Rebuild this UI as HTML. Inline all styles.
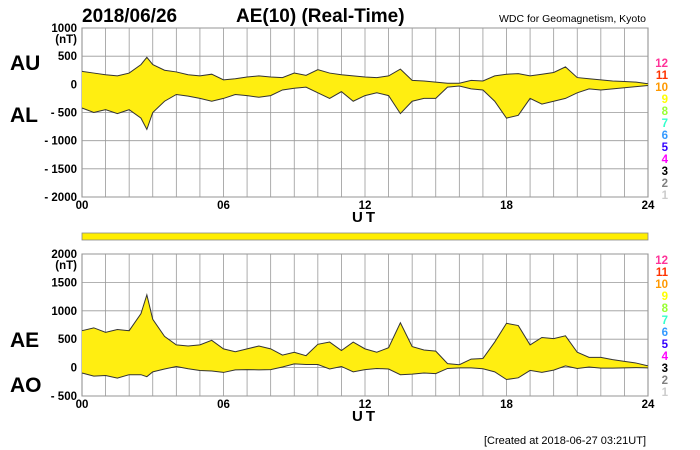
<!DOCTYPE html>
<html><head><meta charset="utf-8"><style>
body{margin:0;background:#fff;}
svg{display:block;font-family:"Liberation Sans",sans-serif;}
</style></head><body>
<svg id="c" width="700" height="450">
<text x="82" y="22" font-size="19" font-weight="bold">2018/06/26</text>
<text x="236" y="22" font-size="19" font-weight="bold">AE(10) (Real-Time)</text>
<text x="646" y="22" font-size="10.5" text-anchor="end">WDC for Geomagnetism, Kyoto</text>
<text x="10" y="70" font-size="21" font-weight="bold">AU</text>
<text x="10" y="122" font-size="21" font-weight="bold">AL</text>
<text x="10" y="347" font-size="21" font-weight="bold">AE</text>
<text x="10" y="392" font-size="21" font-weight="bold">AO</text>
<rect x="82" y="233" width="566" height="7" fill="#ffee00" stroke="#888" stroke-width="0.8"/>
<text x="646" y="444" font-size="11" text-anchor="end">[Created at 2018-06-27 03:21UT]</text>
</svg>
<script>
const hours=[0,0.5,1,1.5,2,2.5,2.75,3,3.5,4,4.5,5,5.5,6,6.5,7,7.5,8,8.5,9,9.5,10,10.5,11,11.5,12,12.5,13,13.5,14,14.5,15,15.5,16,16.5,17,17.5,18,18.5,19,19.5,20,20.5,21,21.5,22,22.5,23,23.5,24];
const auValues=[230,200,170,150,200,350,480,350,250,220,170,150,180,80,100,130,150,130,120,200,160,260,200,170,150,130,120,150,270,70,60,40,20,20,70,60,150,180,190,150,180,210,310,120,100,80,60,50,40,10];
const alValues=[-420,-500,-450,-520,-450,-600,-800,-500,-300,-180,-210,-250,-300,-250,-180,-200,-230,-200,-100,-70,-50,-150,-250,-130,-300,-200,-150,-200,-520,-300,-250,-250,-50,-30,-80,-100,-300,-600,-550,-250,-350,-300,-250,-150,-80,-100,-80,-60,-40,-20];
const xTicks=["00","06","12","18","24"];
const topTicks=[1000,500,0,-500,-1000,-1500,-2000];
const botTicks=[2000,1500,1000,500,0,-500];
const legendNums=["12","11","10","9","8","7","6","5","4","3","2","1"];
const legendCols=["#ff3399","#ff3300","#ff9900","#ffff00","#99ff33","#33ffcc","#3399ff","#3300ff","#ff00ff","#000","#808080","#ccc"];
const aeValues=auValues.map((u,i)=>u-alValues[i]);
const aoValues=auValues.map((u,i)=>(u+alValues[i])/2);
const svg=document.getElementById('c');const NS="http://www.w3.org/2000/svg";
function mk(t,a,p){const e=document.createElementNS(NS,t);for(const k in a)e.setAttribute(k,a[k]);(p||svg).appendChild(e);return e;}
const X0=82,X1=648;const xs=h=>X0+(X1-X0)*h/24;
function panel(name,yTop,yBot,vMax,vMin,ticks,upper,lower,legY){
  const ys=v=>yTop+(vMax-v)/(vMax-vMin)*(yBot-yTop);
  const g=mk('g',{});
  
  
  mk('rect',{x:X0,y:yTop,width:X1-X0,height:yBot-yTop,fill:'#fff',stroke:'#888','stroke-width':1},g);
  for(let h=1;h<24;h++){const l=mk('line',{x1:xs(h),x2:xs(h),y1:yTop,y2:yBot,stroke:'#999','stroke-width':0.8},g);
    }
  ticks.forEach(v=>{const y=ys(v);
    const l=mk('line',{x1:X0,x2:X1,y1:y,y2:y,stroke:'#999','stroke-width':0.8},g);
    
    const t=mk('text',{x:77,y:y+4,'font-size':11.5,'font-weight':'bold','text-anchor':'end'},g);
    t.textContent=v<0?'- '+(-v):String(v);
    });
  const u=mk('text',{x:77,y:ys(ticks[0])+15,'font-size':11.5,'font-weight':'bold','text-anchor':'end'},g);u.textContent='(nT)';
  
  let d='M'+hours.map((h,i)=>xs(h)+','+ys(upper[i])).join('L');
  for(let i=hours.length-1;i>=0;i--)d+='L'+xs(hours[i])+','+ys(lower[i]);
  const a=mk('path',{d:d+'Z',fill:'#ffee11',stroke:'none'},g);
  
  [upper,lower].forEach((arr,k)=>{const p=mk('polyline',{points:hours.map((h,i)=>xs(h)+','+ys(arr[i])).join(' '),fill:'none',stroke:'#333','stroke-width':1},g);
    });
  xTicks.forEach((t,i)=>{const e=mk('text',{x:xs(i*6),y:yBot+12,'font-size':11.5,'font-weight':'bold','text-anchor':'middle'},g);e.textContent=t;
    });
  const ut=mk('text',{x:365,y:yBot+25,'font-size':15,'font-weight':'bold','text-anchor':'middle','letter-spacing':'3'},g);ut.textContent='UT';
  
  legendNums.forEach((n,i)=>{const e=mk('text',{x:668,y:legY+i*12,'font-size':11.5,'font-weight':'bold','text-anchor':'end',fill:legendCols[i]},g);e.textContent=n;
    });
}
panel('au-al',28,197,1000,-2000,topTicks,auValues,alValues,67);
panel('ae-ao',254,396,2000,-500,botTicks,aeValues,aoValues,264);
</script>
</body></html>
